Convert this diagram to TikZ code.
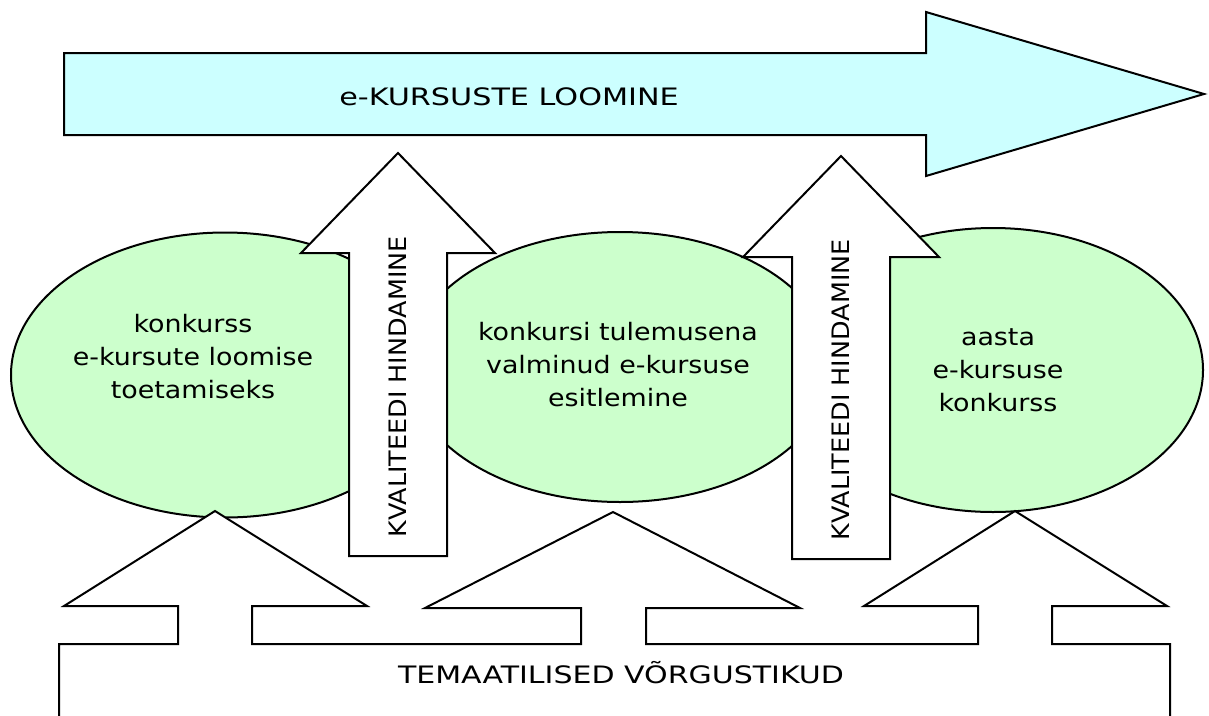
\documentclass[tikz,border=0pt]{standalone}
\usepackage{graphicx}
\usepackage{fontspec}
\setmainfont{DejaVu Sans}
\usetikzlibrary{shapes.geometric}
\definecolor{cyanfill}{HTML}{CCFFFF}
\definecolor{greenfill}{HTML}{CCFFCC}
\newcommand{\wider}[2]{\scalebox{#1}[1]{#2}}
\newcommand{\wl}[1]{\scalebox{1.12}[1]{#1}}
\tikzset{
  shapeline/.style={draw=black, line width=2pt, line join=miter},
  bubble/.style={ellipse, draw=black, line width=2pt, fill=greenfill, inner sep=0pt},
  lbl/.style={font=\fontsize{24}{33}\selectfont, align=center, inner sep=0pt},
}
\begin{document}
\begin{tikzpicture}[x=1pt,y=-1pt]
\useasboundingbox (0,0) rectangle (1209,715);
\clip (0,0) rectangle (1209,715);
% top arrow
\draw[shapeline, fill=cyanfill] (64,53) -- (926,53) -- (926,12) -- (1204,94) -- (926,176) -- (926,135) -- (64,135) -- cycle;
\node[lbl] (top) at (509,97) {\wider{1.26}{e-KURSUSTE LOOMINE}};
% ellipses
\node[bubble, minimum width=428pt, minimum height=285pt] (e1) at (225,375) {};
\node[bubble, minimum width=420pt, minimum height=284pt] (e3) at (993,370) {};
\node[bubble, minimum width=424pt, minimum height=270pt] (e2) at (620,367) {};
\node[lbl] (t1) at (193,357) {\wl{konkurss}\\\wl{e-kursute loomise}\\\wl{toetamiseks}};
\node[lbl] (t2) at (618,365) {\wl{konkursi tulemusena}\\\wl{valminud e-kursuse}\\\wl{esitlemine}};
\node[lbl] (t3) at (998,370) {\wl{aasta}\\\wl{e-kursuse}\\\wl{konkurss}};
% quality arrows
\draw[shapeline, fill=white] (349,556) -- (349,253) -- (301,253) -- (398,153) -- (495,253) -- (447,253) -- (447,556) -- cycle;
\node[lbl, rotate=90] (q1) at (398,387) {\wider{1.06}{KVALITEEDI HINDAMINE}};
\draw[shapeline, fill=white] (792,559) -- (792,257) -- (743,257) -- (841,156) -- (939,257) -- (890,257) -- (890,559) -- cycle;
\node[lbl, rotate=90] (q2) at (841,390) {\wider{1.06}{KVALITEEDI HINDAMINE}};
% bottom networks shape
\draw[shapeline, fill=white] (59,740) -- (59,644) -- (178,644) -- (178,606) -- (64,606) -- (215,511) -- (367,606) -- (252,606) -- (252,644) -- (581,644) -- (581,608) -- (425,608) -- (613,512) -- (800,608) -- (646,608) -- (646,644) -- (978,644) -- (978,606) -- (864,606) -- (1015,511) -- (1167,606) -- (1052,606) -- (1052,644) -- (1170,644) -- (1170,740) -- cycle;
\node[lbl] (bot) at (621,673) {\wider{1.25}{TEMAATILISED VÕRGUSTIKUD}};
\end{tikzpicture}
\end{document}
